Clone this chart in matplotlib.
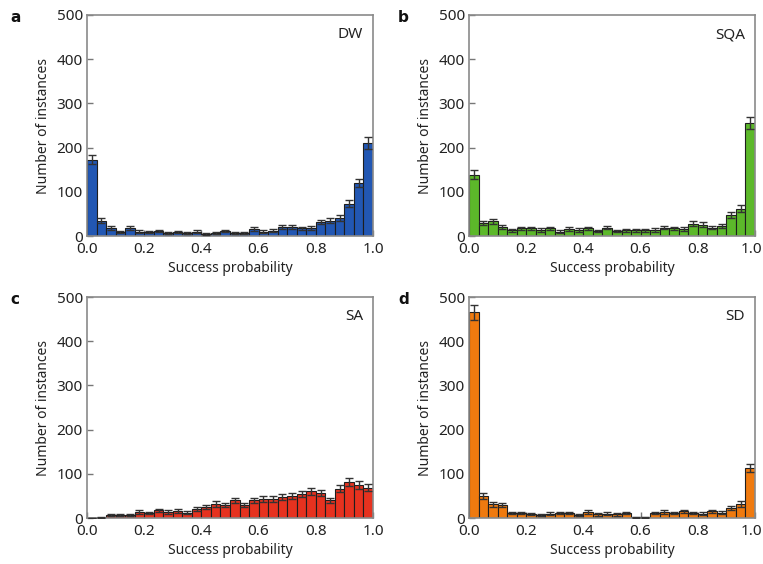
import numpy as np
import matplotlib.pyplot as plt
import matplotlib.transforms as mtransforms

plt.rcParams['font.family'] = ['Noto Sans', 'DejaVu Sans']

n_bins = 30
bin_edges = np.linspace(0.0, 1.0, n_bins + 1)

dw_counts = [173, 35, 18, 9, 18, 10, 9, 11, 7, 9, 7, 10, 5, 7, 11,
             7, 7, 16, 10, 12, 20, 20, 17, 18, 32, 35, 41, 73, 120, 210]
dw_err = [11, 5, 4, 3, 4, 3, 3, 3, 3, 3, 3, 3, 2, 3, 3,
          3, 3, 4, 3, 3, 4, 4, 4, 4, 5, 5, 6, 8, 10, 13]

sqa_counts = [139, 30, 33, 20, 13, 17, 17, 14, 17, 10, 16, 14, 17, 11, 19,
              11, 13, 13, 13, 14, 19, 17, 16, 28, 26, 19, 23, 47, 62, 256]
sqa_err = [11, 5, 5, 4, 3, 4, 4, 4, 4, 3, 4, 4, 4, 3, 4,
           3, 3, 3, 3, 4, 4, 4, 4, 5, 5, 4, 5, 7, 8, 13]

sa_counts = [0, 1, 7, 7, 7, 14, 11, 17, 14, 16, 12, 21, 25, 32, 29,
             40, 29, 40, 43, 43, 47, 50, 54, 61, 56, 40, 66, 82, 74, 68]
sa_err = [0, 1, 3, 3, 3, 4, 3, 4, 4, 4, 3, 5, 5, 6, 5,
          6, 5, 6, 7, 7, 7, 7, 7, 8, 7, 6, 8, 9, 9, 8]

sd_counts = [465, 49, 31, 29, 11, 11, 9, 6, 10, 11, 11, 6, 14, 8, 10,
             8, 11, 2, 2, 11, 14, 11, 15, 11, 10, 15, 12, 23, 32, 113]
sd_err = [16, 7, 5, 5, 3, 3, 3, 2, 3, 3, 3, 2, 4, 3, 3,
          3, 3, 1, 1, 3, 4, 3, 4, 3, 3, 4, 3, 5, 6, 10]

panels = [
    ("a", "DW", dw_counts, dw_err, "#2257b3"),
    ("b", "SQA", sqa_counts, sqa_err, "#5cb82a"),
    ("c", "SA", sa_counts, sa_err, "#e6321f"),
    ("d", "SD", sd_counts, sd_err, "#ef7a0f"),
]

W, H = 763, 564
fig = plt.figure(figsize=(W / 100, H / 100), dpi=100)

# axes boxes in pixels: left, top, right, bottom
boxes = [(87, 15, 373, 236), (469, 15, 755, 236),
         (87, 297, 373, 518), (469, 297, 755, 518)]
letter_pos = [(10, 17), (398, 17), (10, 299), (398, 299)]

centers = (bin_edges[:-1] + bin_edges[1:]) / 2
width = bin_edges[1] - bin_edges[0]

for i, ((letter, name, counts, err, color), (l, t, r, b), (lx, ly)) in enumerate(
        zip(panels, boxes, letter_pos)):
    ax = fig.add_axes([l / W, 1 - b / H, (r - l) / W, (b - t) / H])
    ax.bar(centers, counts, width=width, color=color, edgecolor="#1e1e1e",
           linewidth=0.8, zorder=2)
    ax.errorbar(centers, counts, yerr=err, fmt="none", ecolor="#333333",
                elinewidth=1.0, capsize=3, capthick=1.0, zorder=3)
    ax.set_xlim(0, 1)
    ax.set_ylim(0, 500)
    ax.set_xticks([0.0, 0.2, 0.4, 0.6, 0.8, 1.0])
    ax.set_yticks([0, 100, 200, 300, 400, 500])
    ax.set_xticklabels(["0.0", "0.2", "0.4", "0.6", "0.8", "1.0"])
    ax.tick_params(direction="in", length=4, width=1, color="#777777",
                   labelsize=11, labelcolor="#222222",
                   top=False, right=False)
    ax.tick_params(axis="x", pad=4)
    ax.tick_params(axis="y", pad=3)
    if i % 2 == 1:
        # right column: nudge the last x label so it stays inside the figure
        last = ax.get_xticklabels()[-1]
        last.set_transform(last.get_transform() +
                           mtransforms.ScaledTranslation(-4 / 100, 0, fig.dpi_scale_trans))
    for sp in ax.spines.values():
        sp.set_color("#8a8a8a")
        sp.set_linewidth(1.2)
    ax.set_xlabel("Success probability", fontsize=10, color="#222222", labelpad=3)
    ax.set_ylabel("Number of instances", fontsize=10, color="#222222", labelpad=4)
    ax.text(0.965, 0.91, name, transform=ax.transAxes, ha="right", va="center",
            fontsize=11, color="#222222")
    fig.text(lx / W, 1 - ly / H, letter, fontsize=11, fontweight="bold",
             family="DejaVu Sans", ha="left", va="center", color="#111111")

fig.savefig("out.png", dpi=100)
